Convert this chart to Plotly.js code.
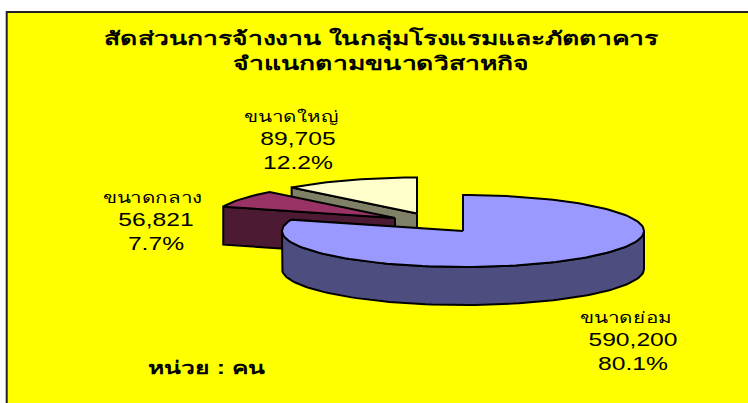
<!DOCTYPE html>
<html>
<head>
<meta charset="utf-8">
<script src="https://cdn.plot.ly/plotly-3.0.1.min.js"></script>
<style>
html,body{margin:0;padding:0;background:#fff}
#chart{width:748px;height:403px}
/* the reference's lettering is stretched horizontally */
#chart text.annotation-text, #chart text.gtitle{transform-box:fill-box;transform-origin:center;transform:scaleX(1.37)}
#chart text.gtitle{transform:scaleX(1.395)}
</style>
</head>
<body>
<div id="chart"></div>
<script>
var categories = ["ขนาดย่อม", "ขนาดกลาง", "ขนาดใหญ่"];
var employees = [590200, 56821, 89705];
var valueLabels = ["590,200", "56,821", "89,705"];
var percentLabels = ["80.1%", "7.7%", "12.2%"];
var titleText = "<b>สัดส่วนการจ้างงาน ในกลุ่มโรงแรมและภัตตาคาร<br>จำแนกตามขนาดวิสาหกิจ</b>";
var unitText = "<b>หน่วย : คน</b>";

var topColors = ["#9999FF", "#993366", "#FFFFCC"];
var sideColors = ["#4D4D80", "#4D1A33", "#808066"];
var apexX = [463, 395, 417];
var apexY = [231, 218, 213.5];
var labelX = [633, 156, 298];
var labelY = [340, 220, 139];
var categoryPad = ["\u00A0\u00A0", "\u00A0", "\u00A0\u00A0"];
var RX = 181, RY = 36, DEPTH = 38;
var FONT = "'Liberation Sans',Arial,sans-serif";

var total = employees.reduce(function (a, b) { return a + b; }, 0);

function rim(i, a) {
  var t = a * Math.PI / 180;
  return [apexX[i] + RX * Math.sin(t), apexY[i] - RY * Math.cos(t)];
}
function poly(xs, ys, fill) {
  return {type: "scatter", mode: "lines", x: xs, y: ys, fill: "toself", fillcolor: fill,
    line: {color: "#000", width: 2, shape: "linear"}, hoverinfo: "skip", showlegend: false};
}
function arc(i, a0, a1, dy) {
  var xs = [], ys = [], n = Math.max(2, Math.ceil(Math.abs(a1 - a0) / 2));
  for (var k = 0; k <= n; k++) {
    var p = rim(i, a0 + (a1 - a0) * k / n);
    xs.push(p[0]); ys.push(p[1] + dy);
  }
  return [xs, ys];
}

// slice angles measured clockwise from 12 o'clock, from the data
var starts = [], ends = [], run = 0;
employees.forEach(function (v) { starts.push(run); run += v / total * 360; ends.push(run); });

function cutFace(i, angle) {
  var p = rim(i, angle);
  return poly([apexX[i], p[0], p[0], apexX[i], apexX[i]],
              [apexY[i], p[1], p[1] + DEPTH, apexY[i] + DEPTH, apexY[i]], sideColors[i]);
}
function topFace(i) {
  var a = arc(i, starts[i], ends[i], 0);
  return poly([apexX[i]].concat(a[0], [apexX[i]]), [apexY[i]].concat(a[1], [apexY[i]]), topColors[i]);
}
function frontWall(i) {
  var a = arc(i, 90, 270, 0), b = arc(i, 270, 90, DEPTH);
  return poly(a[0].concat(b[0], [a[0][0]]), a[1].concat(b[1], [a[1][0]]), sideColors[i]);
}

var traces = [
  cutFace(2, starts[2]), topFace(2),
  cutFace(1, starts[1]), topFace(1),
  frontWall(0), topFace(0)
];

var annotations = [0, 1, 2].map(function (i) {
  return {x: labelX[i], y: labelY[i], xref: "x", yref: "y", showarrow: false, align: "center",
    text: '<span style="font-size:15px">' + categories[i] + "</span>" + categoryPad[i] + "<br>" + valueLabels[i] + "<br>" + percentLabels[i],
    font: {family: FONT, size: 18, color: "#000"}, xanchor: "center", yanchor: "middle"};
});
annotations.push({x: 206.5, y: 368, xref: "x", yref: "y", showarrow: false, text: unitText,
  font: {family: FONT, size: 18, color: "#000"}});

var layout = {
  width: 748, height: 403, margin: {l: 0, r: 0, t: 0, b: 0},
  paper_bgcolor: "#fff", plot_bgcolor: "rgba(0,0,0,0)", showlegend: false,
  title: {text: titleText, font: {family: FONT, size: 19, color: "#000"}, x: 0.5094, xanchor: "center", xref: "paper",
          y: 0.8875, yanchor: "middle"},
  xaxis: {range: [0, 748], visible: false, fixedrange: true},
  yaxis: {range: [403, 0], visible: false, fixedrange: true},
  shapes: [{type: "rect", xref: "x", yref: "y", x0: 6.7, y0: 12, x1: 770, y1: 430, layer: "below",
    fillcolor: "#FFFF00", line: {color: "#222", width: 2}}],
  annotations: annotations
};
Plotly.newPlot("chart", traces, layout, {displayModeBar: false, staticPlot: true});
</script>
</body>
</html>
